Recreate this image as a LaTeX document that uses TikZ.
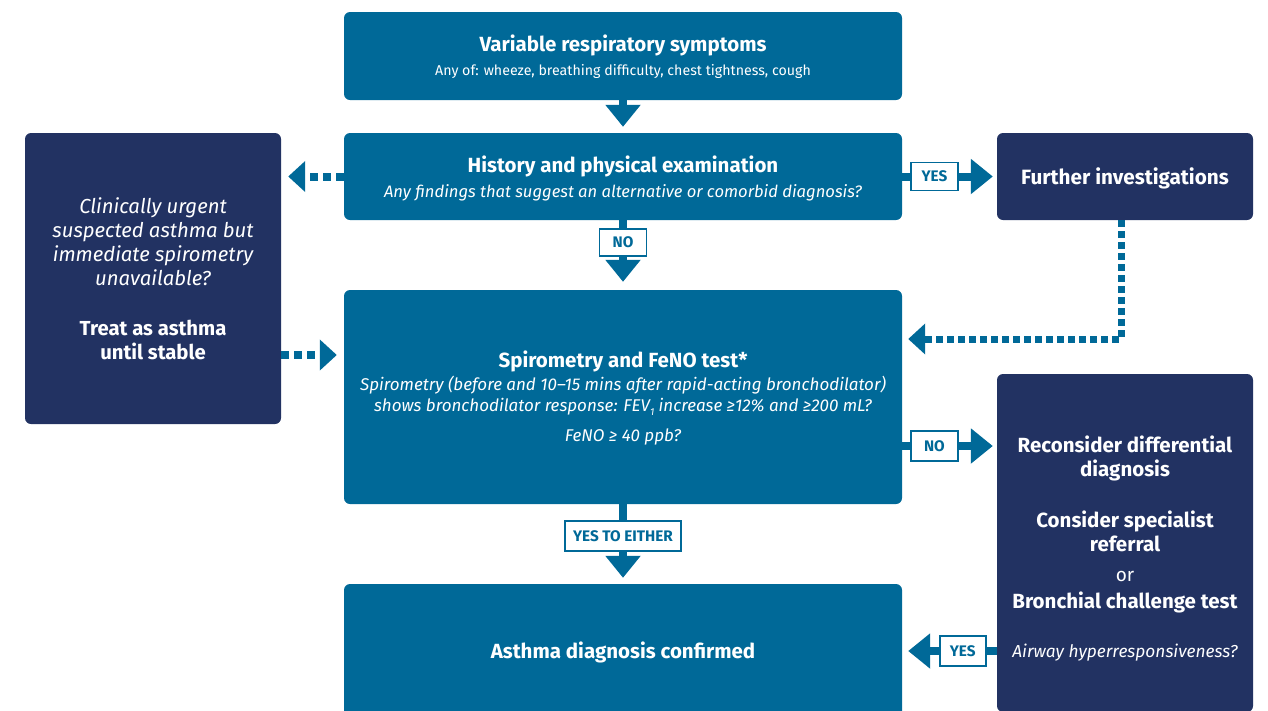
\documentclass[tikz,border=0pt]{standalone}
\usepackage{fontspec}
\setmainfont{Fira Sans}
\usetikzlibrary{arrows.meta,calc}
\definecolor{flowteal}{RGB}{0,105,152}
\definecolor{flownavy}{RGB}{34,50,98}
\tikzset{
  tbox/.style={fill=flowteal, rounded corners=6pt, inner sep=0pt, minimum width=558pt},
  nbox/.style={fill=flownavy, rounded corners=6pt, inner sep=0pt, minimum width=256pt},
  txt/.style={text=white, align=center, inner sep=0pt},
  lbl/.style={draw=flowteal, line width=1.6pt, fill=white, text=flowteal, font=\bfseries\fontsize{15.3}{15.3}\selectfont, inner sep=0pt, minimum height=28pt, minimum width=47pt},
  flow/.style={draw=flowteal, line width=8pt, -{Triangle[width=34pt,length=22pt]}},
  dflow/.style={draw=flowteal, line width=8pt, dash pattern=on 8pt off 5pt, -{Triangle[width=30pt,length=17pt]}},
  pflow/.style={draw=flowteal, line width=7pt, dash pattern=on 7pt off 4pt, -{Triangle[width=30pt,length=17pt]}},
}
\begin{document}
\begin{tikzpicture}[x=1pt,y=-1pt]
\useasboundingbox (0,0) rectangle (1268,710);

% boxes
\node[tbox, minimum height=88pt] (top) at (623,56) {};
\node[tbox, minimum height=87pt] (hist) at (623,176.5) {};
\node[tbox, minimum height=214pt] (spiro) at (623,397) {};
\node[tbox, minimum height=134pt] (asthma) at (623,651) {};
\node[nbox, minimum height=291pt] (left) at (153,278.5) {};
\node[nbox, minimum height=87pt] (further) at (1125,176.5) {};
\node[nbox, minimum height=338pt] (recon) at (1125,543) {};

% texts
\node[txt, font=\fontsize{14.2}{24}\selectfont] (toptxt) at (623,57)
  {{\bfseries\fontsize{20.5}{24}\selectfont Variable respiratory symptoms}\\
   Any of: wheeze, breathing difficulty, chest tightness, cough};

\node[txt, font=\itshape\fontsize{16.6}{25}\selectfont] (histtxt) at (623,178)
  {{\upshape\bfseries\fontsize{20.5}{24}\selectfont History and physical examination}\\
   Any findings that suggest an alternative or comorbid diagnosis?};

\node[txt, font=\itshape\fontsize{17}{21}\selectfont] (spirotxt) at (623,398)
  {{\upshape\bfseries\fontsize{20.5}{24}\selectfont Spirometry and FeNO test*}\\[2pt]
   Spirometry (before and 10–15 mins after rapid-acting bronchodilator)\\
   shows bronchodilator response: FEV\raisebox{-0.4ex}{\fontsize{10}{10}\selectfont 1} increase ≥12\% and ≥200 mL?\\[9pt]
   FeNO ≥ 40 ppb?};

\node[txt, font=\bfseries\fontsize{20.5}{24}\selectfont] (asthmatxt) at (623,652)
  {Asthma diagnosis confirmed};

\node[txt, font=\fontsize{20.3}{24}\selectfont] (lefttxt) at (153,279)
  {{\itshape Clinically urgent}\\
   {\itshape suspected asthma but}\\
   {\itshape immediate spirometry}\\
   {\itshape unavailable?}\\[26pt]
   {\bfseries Treat as asthma}\\
   {\bfseries until stable}};

\node[txt, font=\bfseries\fontsize{20.7}{24}\selectfont] (furthertxt) at (1125,178)
  {Further investigations};

\node[txt, font=\fontsize{20.5}{24}\selectfont] (recontxt) at (1125,548.5)
  {{\bfseries Reconsider differential}\\
   {\bfseries diagnosis}\\[27pt]
   {\bfseries Consider specialist}\\
   {\bfseries referral}\\[6pt]
   {\fontsize{19}{24}\selectfont or}\\[3pt]
   {\bfseries Bronchial challenge test}\\[25pt]
   {\itshape\fontsize{17.3}{24}\selectfont Airway hyperresponsiveness?}};

% connectors
\draw[flow, shorten >=6pt] (top.south) -- (hist.north);
\draw[flow, shorten >=8pt] (hist.south) -- node[lbl, pos=0.32, minimum height=27pt] (no1) {NO} (spiro.north);
\draw[flow, shorten >=4pt] (hist.east) -- node[lbl, pos=0.34] (yes1) {YES} (further.west);
\draw[dflow, shorten >=7pt] (hist.west) -- (left.east |- hist.west);
\draw[dflow, shorten >=7pt] (left.east |- 0,355) -- (spiro.west |- 0,355);
\draw[pflow, shorten >=6pt] ([xshift=-4pt]further.south) -- ([xshift=-4pt]further.south |- 0,339) -- (spiro.east |- 0,339);
\draw[flow, shorten >=4pt] (spiro.east |- 0,446) -- node[lbl, pos=0.34, minimum height=30pt] (no2) {NO} (recon.west |- 0,446);
\draw[flow, shorten >=6pt] (spiro.south) -- node[lbl, pos=0.4, minimum height=30pt, minimum width=116pt] (yes2) {YES TO EITHER} (asthma.north);
\draw[flow, shorten >=6pt] (recon.west |- 0,651) -- node[lbl, pos=0.36, minimum height=30pt, minimum width=46pt] (yes3) {YES} (asthma.east |- 0,651);
\end{tikzpicture}
\end{document}
